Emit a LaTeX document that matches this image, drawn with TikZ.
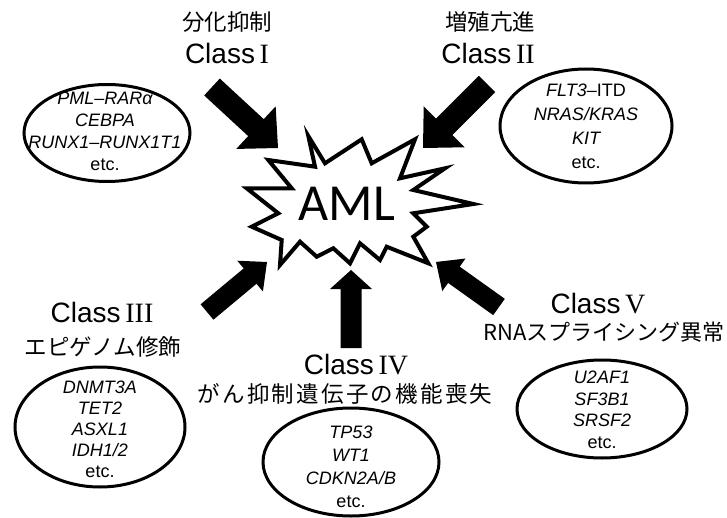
\documentclass[tikz,border=0pt]{standalone}
\usepackage{fontspec}
\setmainfont{Liberation Sans}
\newfontfamily\jpfont{Noto Sans CJK JP}
\newfontfamily\jpwide[LetterSpace=10]{Noto Sans CJK JP}
\newfontfamily\romfont{Liberation Serif}
\newfontfamily\amlfont{Carlito}
\usetikzlibrary{calc,shapes.geometric}
\newcommand\fatarrow[5]{% tail, tip, half shaft, half head, head length
  \path ($(#2)!#5!(#1)$) coordinate (hb);
  \fill ($(#1)!#3!90:(#2)$) -- ($(hb)!#3!90:(#2)$) -- ($(hb)!#4!90:(#2)$) -- (#2)
     -- ($(hb)!#4!-90:(#2)$) -- ($(hb)!#3!-90:(#2)$) -- ($(#1)!#3!-90:(#2)$) -- cycle;}
\tikzset{
  gene/.style={draw, line width=3pt, ellipse, inner sep=0pt},
  genetext/.style={align=center, inner sep=0pt, font=\fontsize{18}{#1}\selectfont\itshape},
  cls/.style={inner sep=0pt, font=\fontsize{28}{30}\selectfont},
  jp/.style={inner sep=0pt, font=\fontsize{22.5}{26}\selectfont\jpfont},
}
\newcommand\RN[1]{\,{\romfont #1}}
\newcommand\etc{{\upshape etc.}}
\begin{document}
\begin{tikzpicture}[x=1pt,y=-1pt]
\useasboundingbox (0,0) rectangle (727,518);
% star
\draw[line width=4pt, line join=miter, fill=white]
 (308.3,136) -- (325,163.3) -- (361.7,139.3) -- (371.7,163.3) -- (415,139.3)
 -- (400,178.3) -- (445,168.3) -- (413.3,190) -- (473.3,204) -- (413.3,213.3)
 -- (426.7,226.7) -- (413.3,236.7) -- (428.3,263.3) -- (386.7,246.7) -- (380,260)
 -- (360,243.3) -- (350,263.3) -- (333.3,248.3) -- (316.7,256.7) -- (300,241.7)
 -- (280,265) -- (281.7,240) -- (251.7,226.7) -- (278.3,213.3) -- (246.7,188.3)
 -- (291.7,188.3) -- (268.3,160) -- (315,166.7) -- cycle;
\node[inner sep=0pt, font=\fontsize{52}{56}\selectfont\amlfont] (aml) at (347,204) {AML};
% arrows
\coordinate (a1t) at (212,87);  \coordinate (a1h) at (278,148);
\coordinate (a2t) at (487,84);  \coordinate (a2h) at (423,148);
\coordinate (a3t) at (207,312); \coordinate (a3h) at (267,262);
\coordinate (a4t) at (351,348); \coordinate (a4h) at (351,270);
\coordinate (a5t) at (499,307); \coordinate (a5h) at (436,262);
\fatarrow{a1t}{a1h}{11.5pt}{29pt}{30pt}
\fatarrow{a2t}{a2h}{11.5pt}{29pt}{30pt}
\fatarrow{a3t}{a3h}{10pt}{20pt}{22pt}
\fatarrow{a4t}{a4h}{10.5pt}{21pt}{19pt}
\fatarrow{a5t}{a5h}{10pt}{20pt}{22pt}
% labels
\node[jp]  (j1) at (227,22) {分化抑制};
\node[cls] (c1) at (227,53) {Class\RN{I}};
\node[jp]  (j2) at (490,22) {増殖亢進};
\node[cls] (c2) at (488,53) {Class\RN{II}};
\node[cls] (c3) at (102,312) {Class\RN{III}};
\node[jp]  (j3) at (103,347) {エピゲノム修飾};
\node[cls] (c4) at (356,365) {Class\RN{IV}};
\node[jp, font=\fontsize{22.5}{26}\selectfont\jpwide] (j4) at (345,394) {がん抑制遺伝子の機能喪失};
\node[cls] (c5) at (598,304) {Class\RN{V}};
\node[jp, font=\fontsize{22}{26}\selectfont\jpfont]  (j5) at (604,332) {RNAスプライシング異常};
% ellipses
\node[gene, minimum width=166pt, minimum height=97pt] (e1) at (107,133) {};
\node[genetext=22] (t1) at (105,131) {PML–RARα\\CEBPA\\RUNX1–RUNX1T1\\\etc};
\node[gene, minimum width=172pt, minimum height=114pt] (e2) at (586,126) {};
\node[genetext=24] (t2) at (586,126) {FLT3{\upshape –ITD}\\NRAS/KRAS\\KIT\\\etc};
\node[gene, minimum width=170pt, minimum height=120pt] (e3) at (100,427) {};
\node[genetext=21] (t3) at (100,429) {DNMT3A\\TET2\\ASXL1\\IDH1/2\\\etc};
\node[gene, minimum width=176pt, minimum height=108pt] (e4) at (351,462) {};
\node[genetext=23] (t4) at (351,467) {TP53\\WT1\\CDKN2A/B\\\etc};
\node[gene, minimum width=170pt, minimum height=98pt] (e5) at (602,409) {};
\node[genetext=21.5] (t5) at (602,410) {U2AF1\\SF3B1\\SRSF2\\\etc};
\end{tikzpicture}
\end{document}
